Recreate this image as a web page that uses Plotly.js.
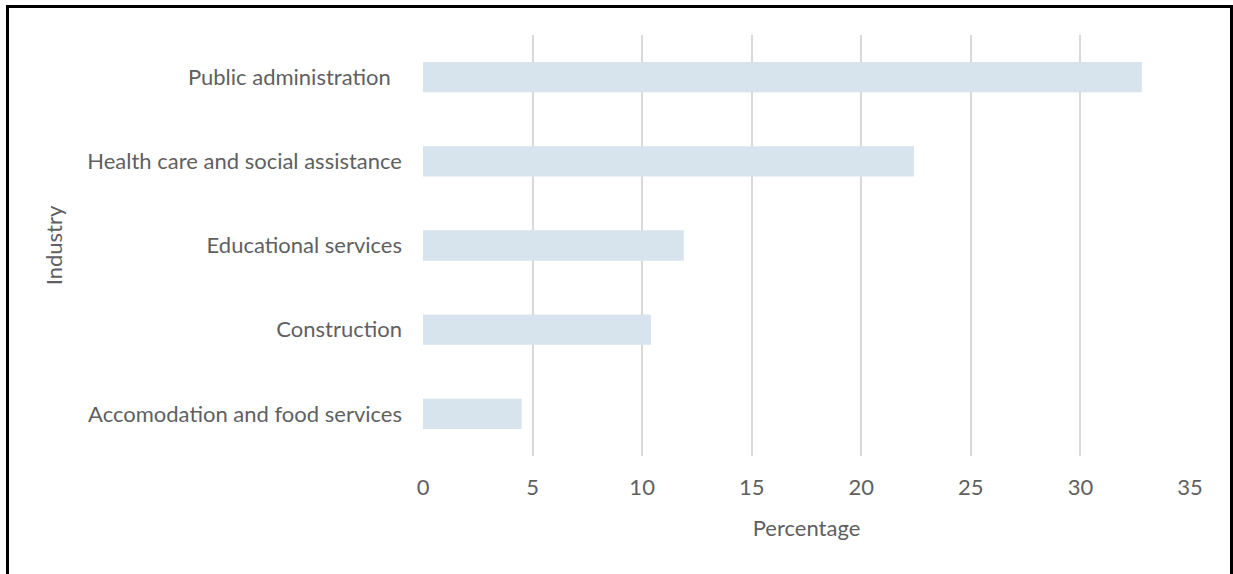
<!DOCTYPE html>
<html>
<head>
<meta charset="utf-8">
<script src="https://cdn.plot.ly/plotly-3.0.1.min.js"></script>
<style>
  html, body { margin: 0; padding: 0; overflow: hidden; background: #fff; }
  #chart { position: absolute; left: 0; top: 0; width: 1233px; height: 574px; }
  #frame { position: absolute; left: 6px; top: 5px; width: 1221px; height: 620px;
           border: 3px solid #000; pointer-events: none; box-sizing: content-box; }
</style>
</head>
<body>
<div id="chart"></div>
<div id="frame"></div>
<script>
const industries = [
  "Public administration\u00a0\u00a0",
  "Health care and social assistance",
  "Educational services",
  "Construction",
  "Accomodation and food services"
];
const percentages = [32.8, 22.4, 11.9, 10.4, 4.5];
const xTicks = [0, 5, 10, 15, 20, 25, 30, 35];

const fontFamily = "Lato, 'Open Sans', sans-serif";
const textColor = "#5f5f5f";

const trace = {
  type: "bar",
  orientation: "h",
  x: percentages,
  y: industries,
  marker: { color: "#d7e4ee", line: { width: 0 } },
  hoverinfo: "x+y"
};

const layout = {
  width: 1233,
  height: 574,
  margin: { l: 423, r: 43, t: 35, b: 118 },
  paper_bgcolor: "#ffffff",
  plot_bgcolor: "#ffffff",
  showlegend: false,
  bargap: 0.64,
  font: { family: fontFamily, color: textColor, size: 22 },
  xaxis: {
    range: [0, 35],
    tickvals: xTicks,
    ticktext: xTicks.map(String),
    showgrid: true,
    gridcolor: "#d9d9d9",
    gridwidth: 2,
    zeroline: false,
    showline: false,
    ticks: "",
    ticklabelstandoff: 16,
    tickfont: { family: fontFamily, color: textColor, size: 22 },
    title: { text: "Percentage", font: { family: fontFamily, color: textColor, size: 22 }, standoff: 21 },
    fixedrange: true
  },
  yaxis: {
    type: "category",
    autorange: "reversed",
    showgrid: false,
    zeroline: false,
    showline: false,
    ticks: "",
    ticklabelstandoff: 20,
    tickfont: { family: fontFamily, color: textColor, size: 22 },
    title: { text: "Industry", font: { family: fontFamily, color: textColor, size: 22 }, standoff: 18 },
    fixedrange: true
  }
};

Plotly.newPlot("chart", [trace], layout, { displayModeBar: false, staticPlot: true });
</script>
</body>
</html>
